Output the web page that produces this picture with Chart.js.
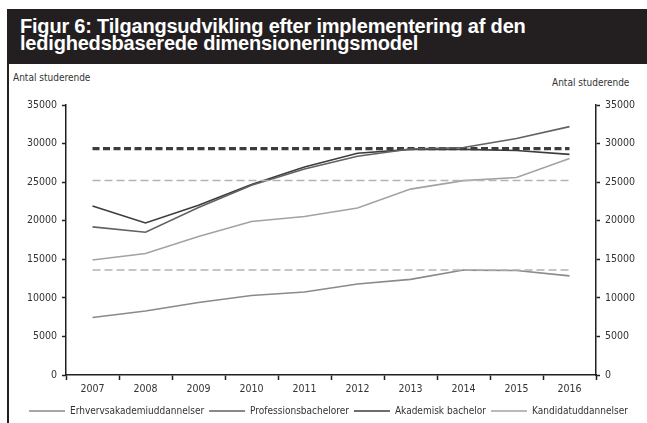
<!DOCTYPE html>
<html lang="da">
<head>
  <meta charset="UTF-8" />
  <title>Figur 6</title>
  <script src="https://cdn.jsdelivr.net/npm/chart.js"></script>
  <style>
    body { margin: 0; background: #fff; width: 647px; height: 423px; overflow: hidden; position: relative; font-family: "Liberation Sans", Arial, sans-serif; }
    .titlebar { position: absolute; left: 7px; top: 9px; width: 640px; height: 55px; background: #231f20; }
    .titlebar h1 { margin: 0; padding: 9px 0 0 13px; color: #fff; font-size: 20px; line-height: 17px; font-weight: bold; letter-spacing: -0.2px; }
    .border { position: absolute; left: 7px; top: 64px; width: 2px; height: 359px; background: #231f20; }
    .ylab { position: absolute; font-family: "DejaVu Sans Condensed", sans-serif; font-size: 10px; color: #333; }
    .chart-wrapper { position: absolute; left: 10px; top: 65px; width: 637px; height: 361px; }
  </style>
</head>
<body>

<div class="titlebar"><h1>Figur 6: Tilgangsudvikling efter implementering af den<br>ledighedsbaserede dimensioneringsmodel</h1></div>
<div class="border"></div>
<div class="ylab" style="left:13px; top:72px;">Antal studerende</div>
<div class="ylab" style="left:552px; top:77px;">Antal studerende</div>

<div class="chart-wrapper">
  <canvas id="tilgangChart"></canvas>
</div>

<script>
  const years = ['2007', '2008', '2009', '2010', '2011', '2012', '2013', '2014', '2015', '2016'];
  const erhvervsakademi = [7450, 8300, 9400, 10300, 10750, 11800, 12400, 13600, 13550, 12850];
  const professionsbachelor = [19200, 18500, 21700, 24600, 26700, 28350, 29300, 29500, 30650, 32200];
  const akademiskBachelor = [21900, 19700, 22000, 24700, 26950, 28750, 29250, 29250, 29100, 28600];
  const kandidat = [14900, 15750, 17950, 19900, 20550, 21650, 24100, 25200, 25600, 28050];
  // dimensioneringsniveauer (stiplede linjer)
  const niveauMoerk = 29350;
  const niveauLys = [25200, 13600];

  const fontNarrow = '"DejaVu Sans Condensed", sans-serif';

  function niveauLinje(value, color, width, dash) {
    return {
      label: '',
      data: [{ x: years[0], y: value }, { x: years[years.length - 1], y: value }],
      borderColor: color,
      borderWidth: width,
      borderDash: dash,
      pointRadius: 0,
      fill: false
    };
  }

  function serie(label, data, color) {
    return {
      label,
      data,
      borderColor: color,
      backgroundColor: color,
      borderWidth: 1.6,
      pointRadius: 0,
      tension: 0,
      fill: false
    };
  }

  const tickCfg = {
    stepSize: 5000,
    color: '#333',
    font: { family: fontNarrow, size: 10.5 },
    padding: 5,
    callback: v => String(v)
  };

  new Chart(document.getElementById('tilgangChart'), {
    type: 'line',
    data: {
      labels: years,
      datasets: [
        niveauLinje(niveauLys[0], '#b3b3b3', 1.5, [8, 4]),
        niveauLinje(niveauLys[1], '#b3b3b3', 1.5, [8, 4]),
        serie('Erhvervsakademiuddannelser', erhvervsakademi, '#8a8a8a'),
        serie('Professionsbachelorer', professionsbachelor, '#626262'),
        serie('Akademisk bachelor', akademiskBachelor, '#3c3c3c'),
        serie('Kandidatuddannelser', kandidat, '#a3a3a3'),
        niveauLinje(niveauMoerk, '#3c3c3c', 3.4, [7, 3.5])
      ]
    },
    options: {
      responsive: true,
      maintainAspectRatio: false,
      animation: false,
      layout: { padding: { top: 40, left: 0, right: 0, bottom: 0 } },
      plugins: {
        title: { display: false },
        tooltip: { enabled: false },
        legend: {
          position: 'bottom',
          labels: {
            color: '#333',
            font: { family: fontNarrow, size: 10 },
            usePointStyle: true,
            pointStyle: 'line',
            pointStyleWidth: 36,
            padding: 5,
            filter: item => item.text !== ''
          }
        }
      },
      scales: {
        x: {
          offset: true,
          grid: {
            display: true,
            drawOnChartArea: false,
            offset: true,
            tickLength: 5,
            color: '#231f20',
            tickWidth: 1.5
          },
          border: { color: '#231f20', width: 1.5 },
          ticks: { color: '#333', font: { family: fontNarrow, size: 10.5 }, padding: 3 },
          afterFit: scale => { scale.height = 26; }
        },
        y: {
          position: 'left',
          min: 0,
          max: 35000,
          grid: { drawOnChartArea: false, tickLength: 4, color: '#231f20', tickWidth: 1.5 },
          border: { color: '#231f20', width: 1.5 },
          ticks: tickCfg,
          afterFit: scale => { scale.width = 56; }
        },
        y2: {
          position: 'right',
          min: 0,
          max: 35000,
          grid: { drawOnChartArea: false, tickLength: 4, color: '#231f20', tickWidth: 1.5 },
          border: { color: '#231f20', width: 1.5 },
          ticks: tickCfg,
          afterFit: scale => { scale.width = 51; }
        }
      }
    }
  });
</script>

</body>
</html>
